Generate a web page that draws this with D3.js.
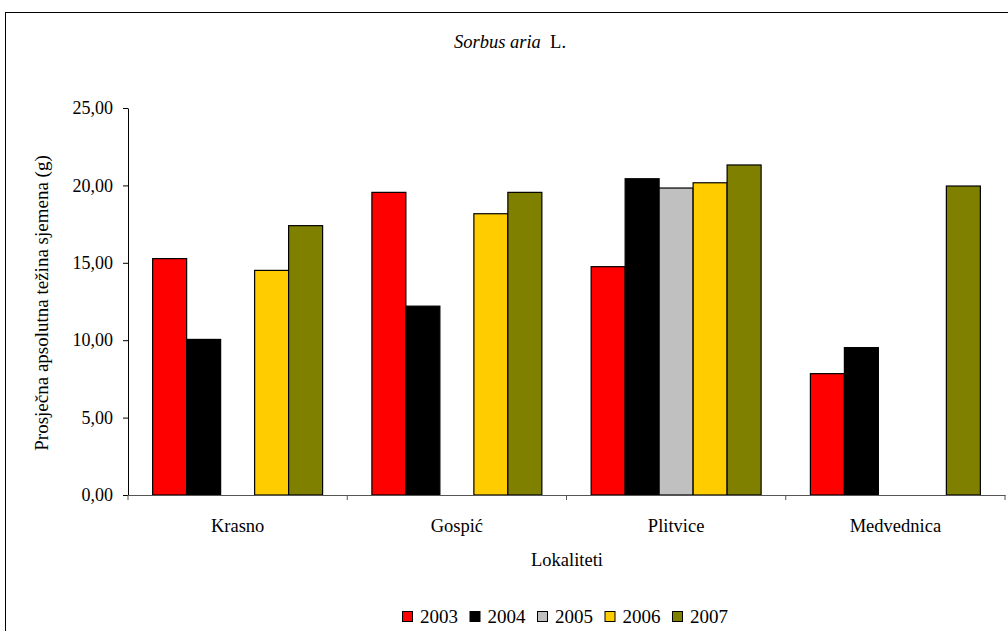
<!DOCTYPE html>
<html><head><meta charset="utf-8">
<script src="https://cdn.jsdelivr.net/npm/d3@7"></script>
</head><body style="margin:0;background:#fff">
<script>
const categories = ["Krasno", "Gospić", "Plitvice", "Medvednica"];
const years = ["2003", "2004", "2005", "2006", "2007"];
const v2003 = [15.27, 19.55, 14.75, 7.84];
const v2004 = [10.05, 12.20, 20.43, 9.52];
const v2005 = [null, null, 19.83, null];
const v2006 = [14.51, 18.17, 20.17, null];
const v2007 = [17.40, 19.55, 21.32, 19.96];
const yTicks = [0, 5, 10, 15, 20, 25];
const colors = ["#ff0000", "#000000", "#c0c0c0", "#ffcc00", "#808000"];
const seriesValues = [v2003, v2004, v2005, v2006, v2007];

const FONT = "Liberation Serif";
const W = 1008, H = 631;
const svg = d3.select("body").append("svg").attr("width", W).attr("height", H).style("display", "block");
svg.append("rect").attr("x", 5.5).attr("y", 12.5).attr("width", 1010).attr("height", 640)
  .attr("fill", "#fff").attr("stroke", "#000").attr("stroke-width", 1);

const x0 = 128, x1 = 1005, y0 = 495, y1 = 108;
const x = d3.scaleBand().domain(categories).range([x0, x1]).paddingInner(0).paddingOuter(0);
const xs = d3.scaleBand().domain(years).range([0, x.bandwidth()]).paddingInner(0).paddingOuter(0.725);
const y = d3.scaleLinear().domain([0, 25]).range([y0, y1]);

// bars
categories.forEach((c, ci) => {
  years.forEach((yr, si) => {
    const v = seriesValues[si][ci];
    if (v == null) return;
    svg.append("rect")
      .attr("x", x(c) + xs(yr)).attr("y", y(v))
      .attr("width", xs.bandwidth()).attr("height", y(0) - y(v))
      .attr("fill", colors[si]).attr("stroke", "#000").attr("stroke-width", 1.2);
  });
});

// axes
const fmt = d => d3.format(".2f")(d).replace(".", ",");
const ya = svg.append("g").attr("transform", `translate(${x0},0)`)
  .call(d3.axisLeft(y).tickValues(yTicks).tickFormat(fmt).tickSize(5).tickSizeOuter(0).tickPadding(10));
ya.attr("font-family", FONT).attr("font-size", 18);
ya.select(".domain").attr("stroke", "#000");
ya.selectAll(".tick line").attr("stroke", "#000");
ya.selectAll("text").attr("font-family", FONT).attr("font-size", 18).attr("fill", "#000");

const xa = svg.append("g").attr("transform", `translate(0,${y0})`)
  .call(d3.axisBottom(x).tickSize(0).tickSizeOuter(0).tickFormat(""));
xa.select(".domain").attr("stroke", "#555");
svg.selectAll(".xt").data(d3.range(categories.length + 1)).enter().append("line")
  .attr("x1", i => x0 + i * x.bandwidth()).attr("x2", i => x0 + i * x.bandwidth())
  .attr("y1", y0).attr("y2", y0 + 5).attr("stroke", "#555");
svg.selectAll(".xl").data(categories).enter().append("text")
  .attr("x", d => x(d) + x.bandwidth() / 2).attr("y", 532)
  .attr("text-anchor", "middle").attr("font-family", FONT).attr("font-size", 18.5).text(d => d);

// titles
const t = svg.append("text").attr("x", 510).attr("y", 48).attr("text-anchor", "middle")
  .attr("font-family", FONT).attr("font-size", 18.5);
t.append("tspan").attr("font-style", "italic").text("Sorbus aria");
t.append("tspan").text("\u00a0 L.");
svg.append("text").attr("x", 567).attr("y", 566).attr("text-anchor", "middle")
  .attr("font-family", FONT).attr("font-size", 18.5).text("Lokaliteti");
svg.append("text").attr("transform", "translate(48,303) rotate(-90)").attr("text-anchor", "middle")
  .attr("font-family", FONT).attr("font-size", 19).text("Prosječna apsolutna težina sjemena (g)");

// legend
const lg = svg.append("g").attr("transform", "translate(402,611)");
let lx = 0;
years.forEach((yr, i) => {
  lg.append("rect").attr("x", lx + 0.5).attr("y", 0.5).attr("width", 10).attr("height", 10)
    .attr("fill", colors[i]).attr("stroke", "#000").attr("stroke-width", 1);
  lg.append("text").attr("x", lx + 18).attr("y", 11.5).attr("font-family", FONT).attr("font-size", 19).text(yr);
  lx += 67.5;
});
</script>
</body></html>
